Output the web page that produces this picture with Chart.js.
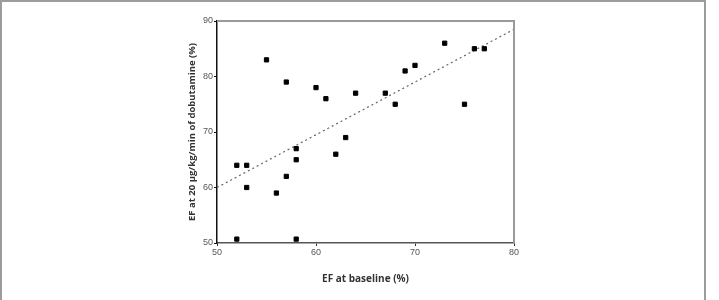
<!DOCTYPE html>
<html>
<head>
<meta charset="utf-8">
<script src="https://cdn.jsdelivr.net/npm/chart.js@4.4.1/dist/chart.umd.min.js"></script>
<style>
  html, body { margin: 0; padding: 0; background: #fff; }
  #wrap { position: relative; width: 719px; height: 300px; overflow: hidden; }
  #frame { position: absolute; left: 0; top: 0; width: 702px; height: 320px;
           border: 2px solid #9c9c9c; border-bottom: none; box-sizing: content-box; pointer-events: none; }
  canvas { position: absolute; left: 0; top: 0; }
</style>
</head>
<body>
<div id="wrap">
  <canvas id="c" width="719" height="300"></canvas>
  <div id="frame"></div>
</div>
<script>
// Scatter data: EF at baseline (%) vs EF at 20 µg/kg/min of dobutamine (%)
const baselineEF = [52, 58, 52, 53, 53, 56, 57, 58, 58, 55, 57, 60, 61, 62, 63, 64, 67, 68, 69, 70, 73, 75, 76, 77];
const dobutamineEF = [50.7, 50.7, 64, 64, 60, 59, 62, 65, 67, 83, 79, 78, 76, 66, 69, 77, 77, 75, 81, 82, 86, 75, 85, 85];
// Regression line end points
const fitX = [50, 80];
const fitY = [60, 88.5];
// Axis ticks
const xTicks = [50, 60, 70, 80];
const yTicks = [50, 60, 70, 80, 90];

const points = baselineEF.map((x, i) => ({ x: x, y: dobutamineEF[i] }));
const fitLine = fitX.map((x, i) => ({ x: x, y: fitY[i] }));

const framePlugin = {
  id: 'frameLines',
  afterDatasetsDraw(chart) {
    const { ctx, chartArea: a } = chart;
    ctx.save();
    ctx.strokeStyle = '#9a9a9a';
    ctx.lineWidth = 2;
    ctx.beginPath();
    ctx.moveTo(a.left, a.top);
    ctx.lineTo(a.right, a.top);
    ctx.lineTo(a.right, a.bottom);
    ctx.stroke();
    ctx.restore();
  }
};

new Chart(document.getElementById('c'), {
  type: 'scatter',
  data: {
    datasets: [
      {
        type: 'line',
        data: fitLine,
        borderColor: '#666',
        borderWidth: 1.2,
        borderDash: [2, 3],
        pointRadius: 0,
        fill: false,
        order: 2
      },
      {
        data: points,
        pointStyle: 'rect',
        pointRadius: 3,
        pointBackgroundColor: '#000',
        pointBorderColor: '#000',
        pointBorderWidth: 1,
        order: 1
      }
    ]
  },
  options: {
    responsive: false,
    animation: false,
    events: [],
    layout: { padding: { left: 180, right: 205, top: 21, bottom: 0 } },
    plugins: { legend: { display: false }, tooltip: { enabled: false } },
    scales: {
      x: {
        type: 'linear',
        min: 50, max: 80,
        afterBuildTicks: (s) => { s.ticks = xTicks.map(v => ({ value: v })); },
        afterFit: (s) => { s.height = 57; },
        border: { color: '#555', width: 1.5 },
        grid: { drawOnChartArea: false, drawTicks: true, tickLength: 3, color: '#333' },
        ticks: { color: '#555', font: { family: 'Liberation Sans', size: 9 }, padding: 1, maxRotation: 0 },
        title: {
          display: true,
          text: 'EF at baseline (%)',
          color: '#333',
          font: { family: 'Open Sans', size: 10, weight: 'bold' },
          padding: { top: 0, bottom: 15 }
        }
      },
      y: {
        type: 'linear',
        min: 50, max: 90,
        afterBuildTicks: (s) => { s.ticks = yTicks.map(v => ({ value: v })); },
        afterFit: (s) => { s.width = 37; },
        border: { color: '#111', width: 1.5 },
        grid: { drawOnChartArea: false, drawTicks: true, tickLength: 3, color: '#111' },
        ticks: { color: '#555', font: { family: 'Liberation Sans', size: 9 }, padding: 1 },
        title: {
          display: true,
          text: 'EF at 20 \u03bcg/kg/min of dobutamine (%)',
          color: '#333',
          font: { family: 'Open Sans', size: 9.5, weight: 'bold' },
          padding: { top: 7, bottom: 0 }
        }
      }
    }
  },
  plugins: [framePlugin]
});
</script>
</body>
</html>
